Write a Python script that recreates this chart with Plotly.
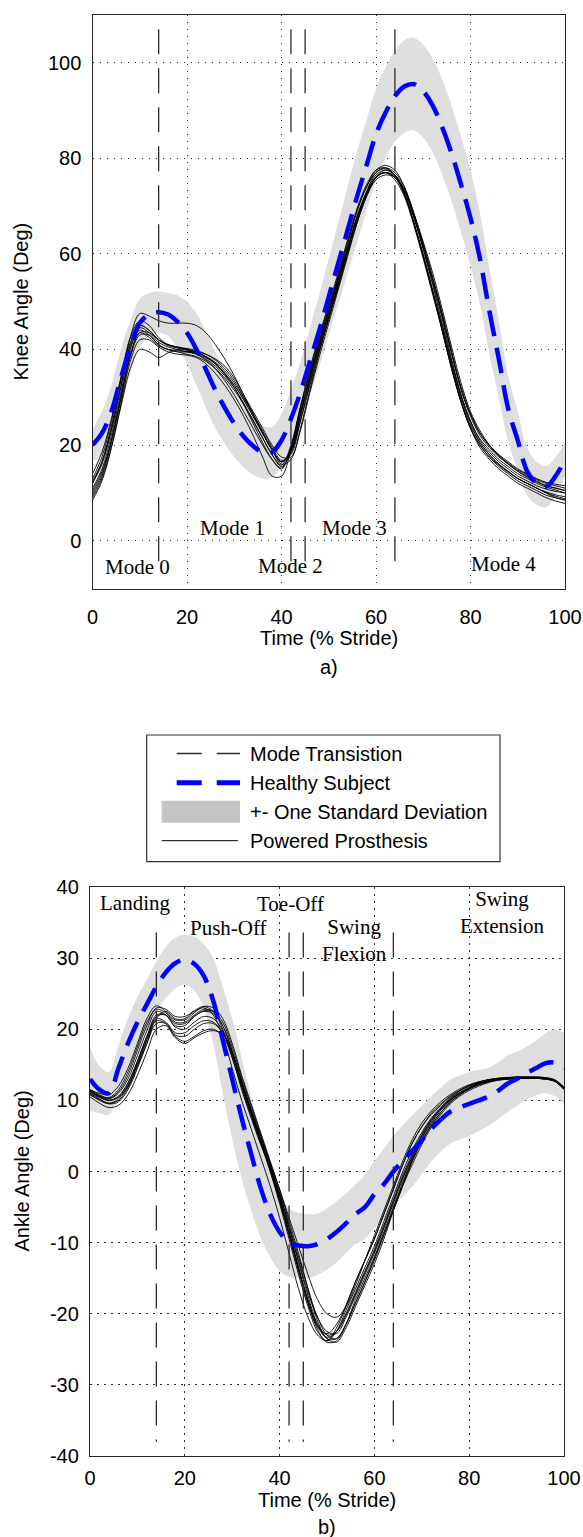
import plotly.graph_objects as go

# ---------------- data (x = 0..100 % stride, step 2) ----------------
stride = list(range(0, 101, 2))
transitions = [14, 42, 45, 64]

knee_healthy_mean = [20, 22.5, 27, 34, 40.5, 45.5, 47.3, 47.8, 47.3, 45.8,
                     43.5, 40, 35.8, 31.5, 27.8, 24.5, 21.8, 19.8, 18.5, 18.5,
                     21, 25.5, 31, 37.5, 44, 51, 58, 65, 72, 78.5,
                     85, 89.5, 93, 95, 95.5, 94, 91, 86.5, 81, 74.5,
                     67.5, 59, 48, 38, 27.5, 21, 14.5, 12, 11.3, 13.5,
                     17]
knee_healthy_sd = [3.3, 4.5, 5.5, 6, 5.5, 5, 4.5, 4.3, 4.5, 5.5,
                   6.5, 7.5, 8, 8, 7.5, 7, 6.5, 6, 5.5, 5.3,
                   5.5, 6, 6.5, 7, 7.5, 8, 8.5, 9, 9.5, 9.5,
                   9.5, 9.5, 9.5, 9.7, 9.7, 9.7, 9.8, 10, 10, 10,
                   10, 9.5, 9, 8, 7, 6, 5, 4.5, 4.3, 4,
                   3.5]

knee_p1 = [11, 15, 22, 31, 40, 44.5, 43.5, 41.5, 40.5, 40,
           39.5, 39, 38, 36.5, 34.5, 32, 28.8, 25.2, 21.5, 18,
           15.8, 20, 28, 35, 42, 48.5, 55, 61.5, 68, 73,
           76.5, 77.5, 76.5, 73, 67.5, 61, 54, 46.5, 38, 30.5,
           25, 21, 18.5, 16.5, 15, 13.5, 12.5, 11.5, 10.8, 10.3,
           10]
knee_p2 = [13, 17.5, 25, 34, 42.5, 46, 45, 42.5, 41, 40.5,
           40, 39.5, 38.5, 37, 35, 32.5, 29.5, 26, 22.5, 19,
           16.5, 19, 26.5, 34, 41, 48, 55, 62, 69, 74,
           77.5, 78.5, 77.5, 74, 68.5, 62, 55, 47.5, 39.5, 32,
           26.5, 22.5, 19.8, 17.8, 16.2, 14.8, 13.8, 12.8, 12, 11.5,
           11]
knee_p3 = [9, 13, 19.5, 28, 36, 40, 39.5, 38.3, 39.3, 40,
           40, 39.5, 38.5, 37, 35, 32.5, 29.5, 26, 22.5, 19,
           16.5, 18.5, 26, 33.5, 40.5, 47, 54, 61, 67.5, 72.5,
           76, 77, 76, 72.5, 66.5, 60, 52.5, 45, 37, 30,
           24.5, 20.5, 18, 16, 14.5, 13, 12, 11, 10, 9.3,
           8.8]
knee_p4 = [12, 16.5, 24, 33.5, 42.5, 47.5, 47, 46, 45.5, 45.5,
           45.5, 45, 43.5, 41, 38, 34.5, 30.5, 26.5, 22.5, 19,
           16, 17, 23.5, 31.5, 39.5, 46.5, 53.5, 60.5, 67.5, 73,
           77, 78, 77, 74, 68.5, 62, 55, 47.5, 39.5, 32,
           26.5, 22.5, 20, 18, 16.5, 15, 14, 13, 12.2, 11.8,
           11.5]
knee_p5 = [10, 14, 21, 30, 38.5, 43, 43, 41, 40, 39.5,
           39, 38.5, 37.5, 36, 34, 31.5, 28.5, 25, 21.5, 18,
           15.5, 18.5, 26.5, 34, 41, 47.5, 54.5, 61, 67.5, 72.5,
           76, 77, 76, 72.5, 66.5, 59.5, 52, 44.5, 36.5, 29.5,
           24, 20.5, 18, 16, 14.5, 13, 12, 11, 10, 9,
           8.5]
knee_p6 = [8.5, 12.5, 19.5, 28.5, 37.5, 42, 42, 40.5, 39.5, 39,
           38.8, 38.3, 37, 35, 32.5, 29.5, 26, 22, 17.5, 13.5,
           13.5, 19, 27, 34.5, 41.5, 48, 54.5, 61, 67.5, 72.5,
           76, 77, 75.5, 72, 66, 59, 51.5, 44, 36, 29,
           23.5, 19.5, 17, 15, 13.5, 12, 11, 10, 9, 8.3,
           7.8]
knee_p7 = [12, 16, 23, 32, 40.5, 44, 43, 41, 40, 39.5,
           39.5, 39.5, 39, 38, 36.5, 34, 30.5, 27, 23.5, 20,
           17.5, 17.5, 23, 31, 38.5, 45.5, 52.5, 59.5, 66.5, 72,
           76, 77.5, 76.5, 73.5, 68, 61.5, 54.5, 47, 39, 31.5,
           26, 22, 19.5, 17.5, 16, 14.5, 13.5, 12.5, 11.5, 11,
           10.5]
knee_p8 = [14, 18.5, 25.5, 34, 41.5, 45, 44, 42, 41, 40.5,
           40, 39.3, 38.3, 37, 34.8, 32, 28.5, 24.5, 20.5, 17,
           15, 19.5, 28, 36, 43, 49.5, 56, 63, 69.5, 74.5,
           77.5, 78, 76.5, 72.5, 66.5, 59.5, 52, 44, 36, 29,
           23.5, 20, 17.5, 15.5, 14, 12.5, 11.5, 10.5, 9.5, 9,
           8.5]
knee_p9 = [10.5, 14.5, 21, 30, 39, 43.5, 42.5, 40.8, 40, 39.8,
           39.5, 39.2, 38.5, 37.3, 35.5, 33, 30, 26.5, 22.5, 19,
           16.5, 18.5, 25, 32.5, 39.5, 46.5, 53, 60, 66.5, 72,
           75.5, 76.5, 76, 73.5, 68.5, 62.5, 56, 48.5, 40.5, 33,
           27, 23, 20, 17.8, 16, 14.5, 13.3, 12.3, 11.5, 11,
           10.5]
knee_p10 = [12.5, 16.5, 23.5, 32.5, 41, 45, 44, 42, 40.8, 40.3,
            39.8, 39, 37.8, 36, 33.5, 30.5, 27, 23.5, 20, 17,
            15.2, 19.5, 27.5, 35.5, 42.5, 49, 55.5, 62.5, 69, 74,
            77, 77.8, 76.5, 72.5, 66.5, 59.5, 52, 44, 36, 29,
            23.5, 20, 17.5, 15.8, 14.3, 13, 12, 11, 10.2, 9.6,
            9.2]
knee_p11 = [9.5, 13.5, 20.5, 29.5, 38.5, 43.5, 43.5, 42, 41, 40.5,
            40.2, 39.8, 39, 37.8, 36, 33.5, 30, 26.5, 23, 19.5,
            16.8, 18, 25, 33, 40, 46.5, 53.5, 60.5, 67, 72.5,
            76, 77, 76.3, 73.2, 67.8, 61, 53.5, 45.5, 37.5, 30.5,
            25, 21.3, 19, 17, 15.5, 14, 13, 12, 11.2, 10.6,
            10]

ankle_healthy_mean = [13, 11.5, 11, 14.5, 18, 21, 23.5, 26, 28, 29.3,
                      29.8, 29.2, 27.5, 24, 18.5, 13, 7.5, 2.5, -2.3, -6,
                      -8.5, -10, -10.4, -10.5, -10.2, -9.5, -8.5, -7.3, -6, -5,
                      -3.2, -1.8, 0, 1.5, 2.9, 4.4, 6, 7.3, 8.4, 9,
                      9.5, 10, 10.5, 11.3, 12.3, 13, 13.8, 14.5, 15.2, 15.3,
                      14.5]
ankle_healthy_sd = [4.5, 3.3, 3, 3.2, 3.5, 3.5, 3.5, 3.5, 3.6, 3.6,
                    3.5, 3.8, 4.5, 6, 7.5, 8.5, 8.5, 8, 7, 6,
                    5.5, 4.8, 4.6, 4.5, 4.3, 4.3, 4.3, 4.2, 4.2, 4.5,
                    4.7, 5, 5, 5, 5, 4.8, 4.6, 4.5, 4.5, 4.5,
                    4.5, 4.3, 4.1, 4, 4, 3.8, 3.7, 3.8, 4.2, 4.7,
                    5]

ankle_p1 = [11.5, 10.8, 10.3, 11.2, 13.5, 17, 20.5, 23, 22.8, 21.8,
            21.8, 22.6, 23.2, 22.5, 20, 16, 11.8, 7.8, 4, 0,
            -4.5, -9.5, -14.5, -19, -22.5, -23.8, -22.5, -19.5, -16.5, -13.5,
            -10.5, -7, -3.5, 0, 3, 5.5, 7.5, 9, 10.3, 11.3,
            12, 12.5, 12.9, 13.1, 13.2, 13.3, 13.3, 13.3, 13.2, 12.9,
            11.8]
ankle_p2 = [11, 10.2, 9.6, 10, 11.8, 14.8, 18, 20.8, 20.8, 19,
            18.3, 19, 19.8, 20, 19, 16, 11.5, 7.5, 3.8, 0.5,
            -3.5, -8, -12.5, -17, -20.5, -22.5, -22.8, -20.5, -17.5, -14.5,
            -11.5, -8, -4.5, -1, 2, 4.8, 7, 8.8, 10, 11,
            11.7, 12.3, 12.7, 13, 13.1, 13.2, 13.2, 13.2, 13.1, 12.8,
            11.8]
ankle_p3 = [10.8, 10, 9.5, 9.8, 11.5, 14.5, 18, 21.5, 22.5, 21.5,
            21.3, 22.3, 23.2, 23, 21.5, 18, 13.5, 9.5, 5.5, 1.5,
            -2.5, -7, -11.5, -16.5, -21, -23.5, -24, -22, -19, -16,
            -13, -9.5, -5.5, -2, 1.5, 4.3, 6.5, 8.3, 9.7, 10.8,
            11.6, 12.2, 12.6, 12.9, 13, 13.1, 13.1, 13.1, 13, 12.7,
            11.6]
ankle_p4 = [11.2, 10.5, 10, 10.6, 12.5, 15.5, 19, 21.5, 21, 19.5,
            19.5, 20.5, 21.2, 21, 19.5, 16.5, 12.5, 8.5, 4.8, 1.2,
            -2.5, -6.5, -10.5, -14.5, -18, -20, -20.5, -19, -16, -12.5,
            -9, -5.5, -2, 1.5, 4.5, 6.8, 8.5, 9.8, 10.8, 11.6,
            12.2, 12.6, 12.9, 13.1, 13.2, 13.3, 13.3, 13.3, 13.2, 12.9,
            11.9]
ankle_p5 = [10.5, 9.6, 9, 9.3, 10.8, 13.5, 16.8, 20, 20.5, 18.8,
            18, 18.8, 19.5, 19.8, 19.3, 16.8, 12.5, 8.5, 4.5, 0.8,
            -3, -7.5, -12, -16.5, -20.5, -23, -23.5, -21.5, -18.5, -15.5,
            -12.5, -9, -5.5, -2, 1, 3.8, 6.2, 8, 9.5, 10.6,
            11.4, 12, 12.5, 12.8, 13, 13.1, 13.1, 13.1, 13, 12.7,
            11.5]
ankle_p6 = [11.5, 11, 10.8, 12, 14.5, 18, 21.5, 23.3, 22.5, 21.3,
            21.5, 22.5, 23, 22, 19, 14.5, 10, 6, 2, -2,
            -6.5, -11.5, -16.5, -20.5, -23, -23.8, -22, -19, -15.5, -12.5,
            -9.5, -6, -2.5, 1, 4, 6.3, 8, 9.3, 10.5, 11.4,
            12.1, 12.6, 12.9, 13.1, 13.2, 13.2, 13.2, 13.2, 13.1, 12.8,
            11.7]
ankle_p7 = [11, 10.4, 10, 10.5, 12.3, 15.5, 19, 22, 22, 20.3,
            20, 21, 21.8, 21.5, 19.8, 16.5, 12, 8, 4.3, 0.3,
            -4, -8.5, -13.5, -18, -21.8, -23.3, -22.5, -20, -17, -14,
            -11, -7.5, -4, -0.5, 2.5, 5.2, 7.3, 8.9, 10.2, 11.1,
            11.8, 12.4, 12.8, 13, 13.1, 13.2, 13.2, 13.2, 13.1, 12.8,
            11.8]
ankle_p8 = [11.3, 10.6, 10.2, 11, 13, 16.3, 19.8, 22.5, 22, 20.5,
            20.5, 21.8, 22.5, 22.2, 20.5, 17, 12.8, 8.8, 5, 1,
            -3.5, -8.5, -13.5, -18.5, -22.2, -24, -23.8, -21.5, -18, -15,
            -12, -8.5, -5, -1.5, 1.8, 4.6, 6.8, 8.6, 10, 11,
            11.7, 12.3, 12.7, 12.9, 13, 13.1, 13.1, 13.1, 13, 12.7,
            11.6]
ankle_p9 = [11.2, 10.5, 10, 10.4, 12, 15, 18.5, 21.8, 22, 20.8,
            20.8, 21.8, 22.6, 22.5, 21, 17.5, 13.2, 9.2, 5.2, 1.2,
            -3, -7.8, -12.8, -17.5, -21.5, -23.5, -23.5, -21.5, -18.5, -15.5,
            -12.2, -8.8, -5.2, -1.7, 1.5, 4.2, 6.5, 8.3, 9.8, 10.8,
            11.6, 12.2, 12.6, 12.9, 13, 13.1, 13.1, 13.1, 13, 12.7,
            11.6]
ankle_p10 = [10.8, 10.1, 9.6, 10.2, 12, 15.2, 18.6, 21.2, 20.8, 19.2,
             19, 20, 20.8, 20.8, 19.5, 16.5, 12.3, 8.2, 4.2, 0.2,
             -4.2, -9, -14, -18.5, -21.8, -22.8, -21.5, -18.8, -15.5, -12.5,
             -9.5, -6, -2.5, 1, 4, 6.3, 8.2, 9.5, 10.6, 11.4,
             12, 12.5, 12.8, 13, 13.1, 13.2, 13.2, 13.2, 13.1, 12.8,
             11.8]
ankle_p11 = [11.4, 10.7, 10.4, 11.5, 14, 17.5, 21, 22.8, 22.3, 21,
             21, 22, 22.8, 22.5, 20.5, 16.8, 12.5, 8.5, 4.5, 0.5,
             -3.8, -8.8, -13.8, -18.2, -21.5, -23, -22.5, -20.2, -17.2, -14.2,
             -11.2, -7.8, -4.2, -0.8, 2.2, 5, 7.2, 8.8, 10.1, 11,
             11.8, 12.4, 12.8, 13, 13.1, 13.2, 13.2, 13.2, 13.1, 12.8,
             11.7]

knee_ticks = [0, 20, 40, 60, 80, 100]
ankle_ticks = [-40, -30, -20, -10, 0, 10, 20, 30, 40]
stride_ticks = [0, 20, 40, 60, 80, 100]

knee_modes = ["Mode 0", "Mode 1", "Mode 2", "Mode 3", "Mode 4"]
ankle_phases = ["Landing", "Push-Off", "Toe-Off", "Swing<br>Flexion", "Swing<br>Extension"]
legend_labels = ["Mode Transistion", "Healthy Subject", "+- One Standard Deviation", "Powered Prosthesis"]

knee_curves = [knee_p1, knee_p2, knee_p3, knee_p4, knee_p5, knee_p6, knee_p7, knee_p8,
               knee_p9, knee_p10, knee_p11]
ankle_curves = [ankle_p1, ankle_p2, ankle_p3, ankle_p4, ankle_p5, ankle_p6, ankle_p7, ankle_p8,
                ankle_p9, ankle_p10, ankle_p11]
for arr in knee_curves + ankle_curves + [knee_healthy_mean, knee_healthy_sd, ankle_healthy_mean, ankle_healthy_sd]:
    assert len(arr) == len(stride), len(arr)

# ---------------- figure ----------------
W, H = 583, 1537
def fx(px):
    return px / W
def fy(py):
    return 1 - py / H

SANS = "Liberation Sans, Arial, sans-serif"
SERIF = "Liberation Serif, Times New Roman, serif"
BAND = "#dedede"
BLUE = "#0000ff"
MODE_COL = "#2b2b2b"

fig = go.Figure()

def add_panel(xa, ya, mean, sd, curves, ytop, ybot):
    upper = [m + s for m, s in zip(mean, sd)]
    lower = [m - s for m, s in zip(mean, sd)]
    fig.add_trace(go.Scatter(x=stride, y=upper, xaxis=xa, yaxis=ya, mode="lines",
                             line=dict(width=0, shape="spline"), hoverinfo="skip", showlegend=False))
    fig.add_trace(go.Scatter(x=stride, y=lower, xaxis=xa, yaxis=ya, mode="lines", fill="tonexty",
                             fillcolor=BAND, line=dict(width=0, shape="spline"), hoverinfo="skip",
                             showlegend=False))
    for c in curves:
        fig.add_trace(go.Scatter(x=stride, y=c, xaxis=xa, yaxis=ya, mode="lines",
                                 line=dict(color="black", width=0.9, shape="spline"), showlegend=False))
    fig.add_trace(go.Scatter(x=stride, y=mean, xaxis=xa, yaxis=ya, mode="lines",
                             line=dict(color=BLUE, width=4.5, dash="26px,12px", shape="spline"),
                             showlegend=False))
    for t in transitions:
        fig.add_trace(go.Scatter(x=[t, t], y=[ytop, ybot], xaxis=xa, yaxis=ya, mode="lines",
                                 line=dict(color=MODE_COL, width=1.3, dash="25px,14px"),
                                 showlegend=False, hoverinfo="skip"))

add_panel("x", "y", knee_healthy_mean, knee_healthy_sd, knee_curves, 107, -7)
add_panel("x2", "y2", ankle_healthy_mean, ankle_healthy_sd, ankle_curves, 33.6, -38)

axis_common = dict(showline=True, linecolor="#262626", linewidth=1.3, mirror=True,
                   showgrid=True, gridcolor="#2a2a2a", gridwidth=1, griddash="1.5px,5.5px",
                   zeroline=False, ticks="", automargin=False,
                   tickfont=dict(family=SANS, size=20, color="black"))

fig.update_layout(
    width=W, height=H, autosize=False,
    margin=dict(l=0, r=0, t=0, b=0, pad=0, autoexpand=False),
    paper_bgcolor="white", plot_bgcolor="white",
    showlegend=False,
    xaxis=dict(domain=[fx(92.5), fx(565)], range=[0, 100], anchor="y",
               tickvals=stride_ticks, ticktext=[str(v) for v in stride_ticks],
               ticklabelstandoff=10, **axis_common),
    yaxis=dict(domain=[fy(588.5), fy(14.8)], range=[-10, 110], anchor="x",
               tickvals=knee_ticks, ticktext=[str(v) for v in knee_ticks],
               ticklabelstandoff=6, **axis_common),
    xaxis2=dict(domain=[fx(90), fx(564)], range=[0, 100], anchor="y2",
                tickvals=stride_ticks, ticktext=[str(v) for v in stride_ticks],
                ticklabelstandoff=4, **axis_common),
    yaxis2=dict(domain=[fy(1456), fy(887)], range=[-40, 40], anchor="x2",
                tickvals=ankle_ticks, ticktext=[str(v) for v in ankle_ticks],
                ticklabelstandoff=6, **axis_common),
)

ann = []
serif_font = dict(family=SERIF, size=21, color="black")
sans_font = dict(family=SANS, size=20, color="black")

mode_pos = [(9.6, -5.5), (29.6, 2.6), (41.9, -5.2), (55.4, 2.7), (86.9, -4.8)]
for txt, (mx, my) in zip(knee_modes, mode_pos):
    ann.append(dict(text=txt, x=mx, y=my, xref="x", yref="y", showarrow=False,
                    xanchor="center", yanchor="middle", font=serif_font))
phase_pos = [(9.4, 37.8), (29.3, 34.3), (42.3, 37.6), (55.7, 32.5), (87.0, 36.4)]
for txt, (mx, my) in zip(ankle_phases, phase_pos):
    ann.append(dict(text=txt, x=mx, y=my, xref="x2", yref="y2", showarrow=False,
                    xanchor="center", yanchor="middle", font=serif_font))

# axis titles and panel labels
ann += [
    dict(text="Time (% Stride)", x=fx(328.7), y=fy(638), xref="paper", yref="paper",
         showarrow=False, xanchor="center", yanchor="middle", font=sans_font),
    dict(text="a)", x=fx(328.7), y=fy(667), xref="paper", yref="paper",
         showarrow=False, xanchor="center", yanchor="middle", font=sans_font),
    dict(text="Knee Angle (Deg)", x=fx(21), y=fy(301.6), xref="paper", yref="paper",
         showarrow=False, xanchor="center", yanchor="middle", textangle=-90, font=sans_font),
    dict(text="Time (% Stride)", x=fx(327), y=fy(1500), xref="paper", yref="paper",
         showarrow=False, xanchor="center", yanchor="middle", font=sans_font),
    dict(text="b)", x=fx(327), y=fy(1526.7), xref="paper", yref="paper",
         showarrow=False, xanchor="center", yanchor="middle", font=sans_font),
    dict(text="Ankle Angle (Deg)", x=fx(21), y=fy(1171.5), xref="paper", yref="paper",
         showarrow=False, xanchor="center", yanchor="middle", textangle=-90, font=sans_font),
]

# legend (drawn in paper coordinates)
rows = [753.5, 782.7, 811.7, 840.7]
shapes = [
    dict(type="rect", xref="paper", yref="paper", x0=fx(146.7), x1=fx(500), y0=fy(735), y1=fy(861.7),
         line=dict(color="#333333", width=1.2), fillcolor="white", layer="above"),
    dict(type="line", xref="paper", yref="paper", x0=fx(176.7), x1=fx(240), y0=fy(rows[0]), y1=fy(rows[0]),
         line=dict(color=MODE_COL, width=1.3, dash="25px,15px")),
    dict(type="line", xref="paper", yref="paper", x0=fx(176.7), x1=fx(240), y0=fy(rows[1]), y1=fy(rows[1]),
         line=dict(color=BLUE, width=5, dash="25px,15px")),
    dict(type="rect", xref="paper", yref="paper", x0=fx(161.7), x1=fx(240), y0=fy(rows[2] - 11), y1=fy(rows[2] + 11),
         line=dict(width=0), fillcolor="#c4c4c4"),
    dict(type="line", xref="paper", yref="paper", x0=fx(161.7), x1=fx(238), y0=fy(rows[3]), y1=fy(rows[3]),
         line=dict(color="black", width=1)),
]
for txt, ry in zip(legend_labels, rows):
    ann.append(dict(text=txt, x=fx(248.3), y=fy(ry), xref="paper", yref="paper", showarrow=False,
                    xanchor="left", yanchor="middle", font=sans_font))

fig.update_layout(annotations=ann, shapes=shapes)

fig.write_html("out.html", config={"displayModeBar": False},
               post_script="document.body.style.margin='0';document.body.style.overflow='hidden';")
